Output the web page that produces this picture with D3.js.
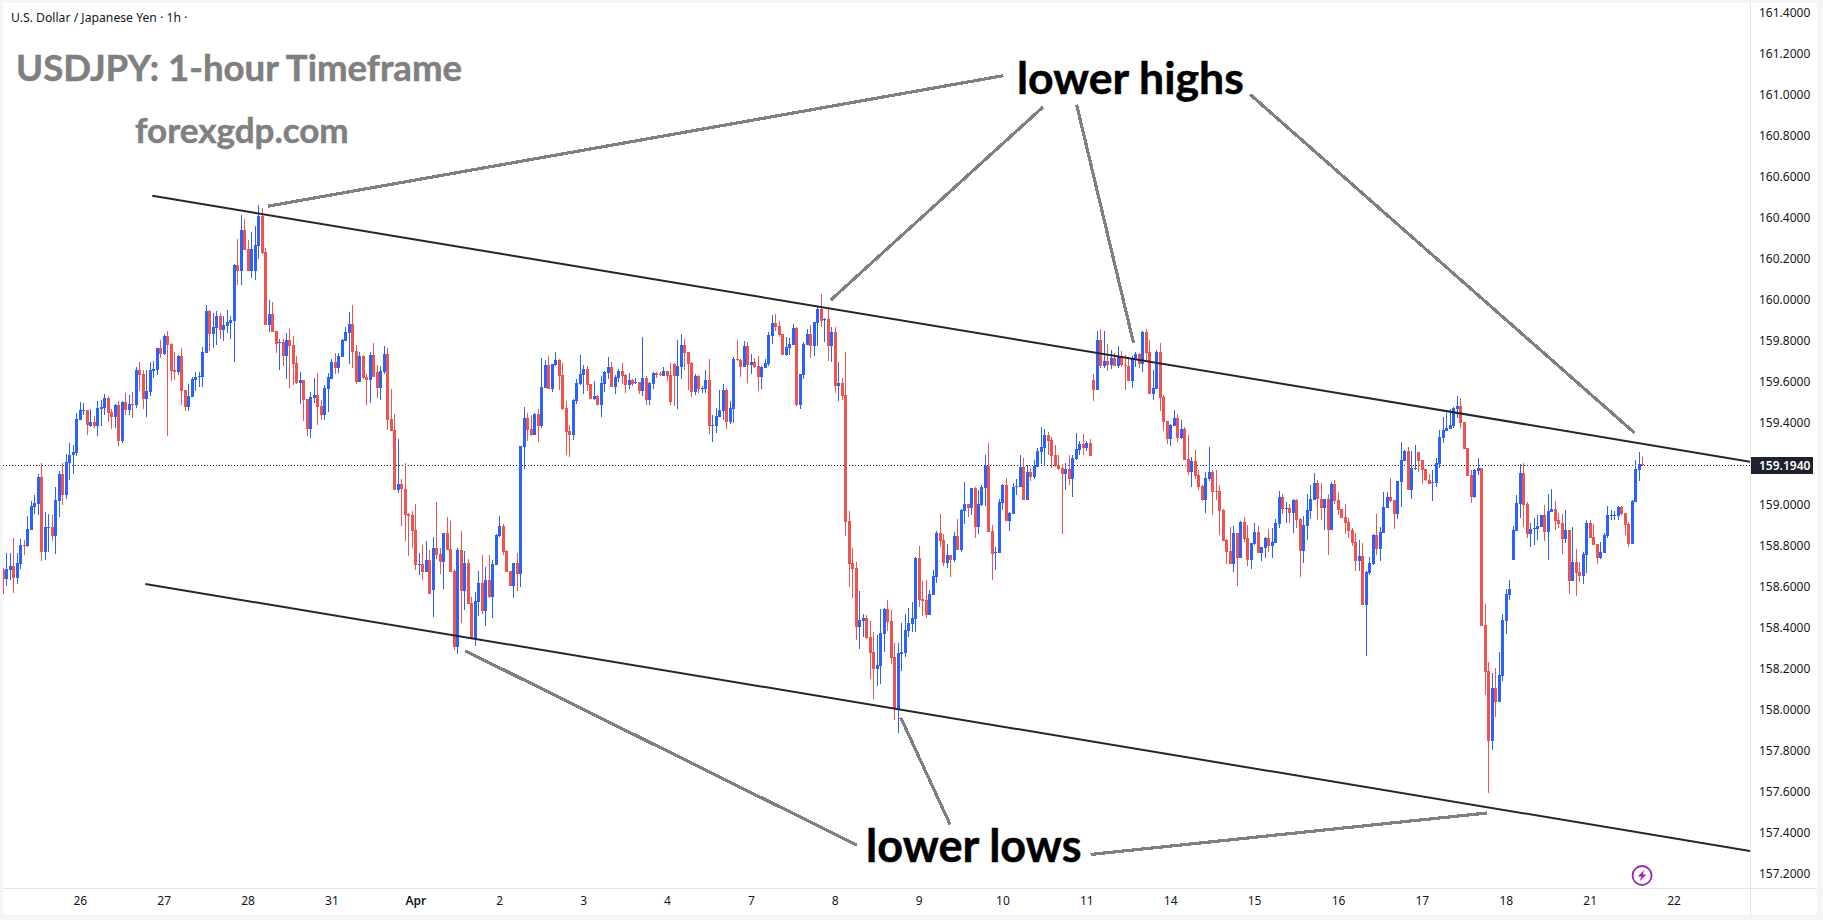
<!DOCTYPE html>
<html>
<head>
<meta charset="utf-8">
<title>USDJPY 1-hour chart</title>
<script src="https://cdn.jsdelivr.net/npm/d3@7/dist/d3.min.js"></script>
<style>
  html, body { margin: 0; padding: 0; background: #f5f5f5; }
  svg { display: block; }
  text { font-family: "Noto Sans", sans-serif; }
</style>
</head>
<body>
<svg id="chart" width="1823" height="920"></svg>
<script>
// Hourly USD/JPY candles, oldest first.
const opens = [
158.682,158.640,158.682,158.701,158.643,158.711,158.802,158.799,158.877,158.991,
159.004,159.136,158.771,158.887,158.890,158.848,159.020,159.150,159.048,159.205,
159.240,159.251,159.413,159.459,159.462,159.386,159.402,159.384,159.469,159.472,
159.521,159.451,159.428,159.486,159.312,159.501,159.462,159.490,159.486,159.657,
159.638,159.516,159.550,159.654,159.657,159.764,159.735,159.823,159.784,159.657,
159.647,159.725,159.560,159.477,159.525,159.608,159.623,159.623,159.740,159.945,
159.833,159.862,159.921,159.852,159.872,159.886,159.896,160.169,160.140,160.340,
160.247,160.140,160.140,160.262,160.408,160.233,159.877,159.930,159.847,159.789,
159.794,159.725,159.803,159.779,159.691,159.594,159.608,159.516,159.369,159.521,
159.535,159.481,159.438,159.564,159.613,159.696,159.667,159.721,159.799,159.838,
159.882,159.750,159.599,159.725,159.623,159.608,159.730,159.647,159.569,159.647,
159.735,159.418,159.364,159.072,159.101,159.075,158.955,158.950,158.877,158.706,
158.711,158.672,158.731,158.584,158.789,158.760,158.721,158.862,158.784,158.677,
158.306,158.779,158.579,158.716,158.521,158.345,158.526,158.618,158.482,158.633,
158.550,158.706,158.848,158.896,158.775,158.677,158.604,158.716,158.662,159.283,
159.423,159.369,159.340,159.442,159.384,159.569,159.681,159.564,159.681,159.706,
159.633,159.472,159.359,159.340,159.506,159.589,159.633,159.662,159.589,159.516,
159.530,159.486,159.589,159.642,159.672,159.574,159.618,159.652,159.633,159.584,
159.608,159.594,159.598,159.555,159.618,159.511,159.589,159.641,159.637,159.628,
159.652,159.633,159.686,159.628,159.672,159.779,159.745,159.691,159.550,159.628,
159.564,159.564,159.608,159.384,159.384,159.428,159.457,159.559,159.403,159.467,
159.711,159.706,159.672,159.774,159.681,159.696,159.676,159.623,159.667,159.686,
159.823,159.886,159.872,159.833,159.730,159.764,159.779,159.862,159.486,159.633,
159.779,159.833,159.774,159.886,159.955,159.901,159.906,159.774,159.842,159.579,
159.594,159.535,158.920,158.714,158.691,158.403,158.432,158.447,158.354,158.281,
158.198,158.213,158.369,158.491,158.432,158.257,158.001,158.271,158.276,158.383,
158.418,158.442,158.740,158.540,158.535,158.462,158.559,158.647,158.862,158.827,
158.715,158.754,158.730,158.847,158.779,158.969,159.003,158.984,159.081,158.891,
158.998,159.081,159.190,158.871,158.764,158.764,159.008,159.096,158.920,158.954,
159.086,159.086,159.183,159.022,159.159,159.135,159.183,159.257,159.276,159.340,
159.315,159.242,159.193,159.179,159.149,159.174,159.125,159.223,159.266,159.296,
159.276,159.301,159.609,159.560,159.804,159.677,159.701,159.682,159.716,159.677,
159.726,159.682,159.677,159.604,159.711,159.735,159.687,159.843,159.745,159.540,
159.565,159.745,159.526,159.409,159.321,159.384,159.423,159.326,159.370,159.223,
159.160,159.213,159.145,159.091,159.023,159.126,159.160,159.067,159.067,158.974,
158.828,158.774,158.711,158.862,158.740,158.916,158.838,158.730,158.809,158.867,
158.765,158.789,158.838,158.799,158.813,158.906,159.038,158.979,158.984,158.960,
159.023,158.930,158.774,158.896,158.970,159.023,159.106,159.028,158.984,159.028,
158.877,159.101,159.023,158.979,158.940,158.916,158.877,158.818,158.726,158.750,
158.511,158.667,158.711,158.852,158.784,158.862,158.984,159.038,159.023,158.955,
159.111,159.213,159.262,159.072,159.174,159.257,159.218,159.174,159.121,159.106,
159.106,159.199,159.326,159.360,159.370,159.384,159.467,159.482,159.404,159.277,
159.145,159.038,159.165,159.179,158.413,158.189,157.847,158.106,158.038,158.164,
158.433,158.559,158.730,158.872,159.003,159.155,159.003,158.857,158.881,158.881,
158.891,158.949,158.867,158.964,158.979,158.925,158.910,158.832,158.876,158.628,
158.720,158.671,158.652,158.754,158.910,158.842,158.808,158.740,158.764,158.847,
158.944,158.944,158.944,158.988,158.959,158.906,158.808,159.013,159.169,159.198];

const highs = [
158.690,158.763,158.763,158.836,158.763,158.831,158.828,158.945,159.018,159.048,
159.150,159.202,158.965,158.955,158.950,159.087,159.162,159.202,159.246,159.300,
159.292,159.449,159.501,159.495,159.462,159.467,159.433,159.506,159.511,159.540,
159.530,159.467,159.491,159.506,159.506,159.543,159.535,159.550,159.670,159.696,
159.657,159.657,159.696,159.701,159.764,159.803,159.833,159.847,159.789,159.743,
159.730,159.764,159.560,159.589,159.623,159.647,159.647,159.769,159.974,159.950,
159.935,159.945,159.935,159.921,159.950,159.921,160.174,160.296,160.413,160.394,
160.291,160.330,160.360,160.462,160.447,160.252,159.999,159.989,159.847,159.808,
159.808,159.838,159.857,159.823,159.725,159.647,159.608,159.516,159.550,159.618,
159.642,159.511,159.584,159.642,159.711,159.740,159.740,159.808,159.867,159.940,
159.974,159.779,159.745,159.730,159.638,159.745,159.789,159.682,159.677,159.774,
159.764,159.564,159.442,159.321,159.124,159.202,158.961,158.970,159.004,158.763,
158.804,158.823,158.779,158.843,159.014,158.789,158.862,158.940,158.921,158.687,
158.789,158.872,158.774,158.735,158.550,158.575,158.677,158.755,158.696,158.755,
158.731,158.857,158.945,158.906,158.779,158.677,158.716,158.765,159.287,159.476,
159.446,159.437,159.447,159.467,159.716,159.706,159.725,159.686,159.745,159.711,
159.691,159.506,159.389,159.516,159.613,159.730,159.681,159.676,159.589,159.603,
159.535,159.628,159.652,159.720,159.696,159.633,159.662,159.691,159.637,159.642,
159.613,159.618,159.598,159.818,159.628,159.598,159.647,159.647,159.647,159.672,
159.652,159.691,159.691,159.803,159.833,159.808,159.745,159.696,159.637,159.633,
159.579,159.657,159.711,159.437,159.472,159.559,159.589,159.569,159.506,159.720,
159.803,159.711,159.798,159.794,159.735,159.716,159.725,159.676,159.711,159.842,
159.925,159.930,159.896,159.833,159.818,159.813,159.881,159.867,159.637,159.794,
159.857,159.876,159.891,159.964,160.028,159.911,159.955,159.867,159.867,159.696,
159.618,159.745,158.969,158.788,158.720,158.579,158.466,158.462,158.432,158.379,
158.364,158.491,158.496,158.535,158.486,158.325,158.325,158.423,158.466,158.496,
158.525,158.744,158.798,158.627,158.632,158.583,158.681,158.871,158.954,158.857,
158.808,158.754,158.866,158.930,158.979,159.110,159.003,159.081,159.086,159.071,
159.096,159.242,159.301,158.901,158.793,159.027,159.101,159.130,158.964,159.105,
159.125,159.242,159.227,159.193,159.179,159.218,159.276,159.380,159.370,159.354,
159.330,159.291,159.242,159.198,159.203,159.242,159.242,159.349,159.310,159.344,
159.310,159.320,159.638,159.848,159.857,159.848,159.784,159.755,159.740,159.774,
159.750,159.730,159.721,159.726,159.745,159.740,159.848,159.857,159.804,159.657,
159.755,159.789,159.535,159.409,159.394,159.462,159.443,159.413,159.379,159.340,
159.233,159.267,159.170,159.096,159.160,159.282,159.170,159.170,159.096,158.979,
158.833,158.891,158.896,158.862,158.921,158.940,158.901,158.813,158.911,158.896,
158.794,158.843,158.882,158.887,158.930,159.067,159.052,159.013,159.004,159.028,
159.028,158.935,158.945,159.052,159.096,159.155,159.121,159.106,159.028,159.052,
159.111,159.121,159.062,158.979,159.004,158.935,158.887,158.862,158.828,158.813,
158.677,158.745,158.857,158.955,158.891,159.062,159.062,159.130,159.023,159.116,
159.306,159.267,159.282,159.262,159.291,159.257,159.218,159.174,159.150,159.170,
159.228,159.365,159.428,159.448,159.467,159.477,159.530,159.521,159.404,159.277,
159.170,159.174,159.228,159.179,158.516,158.233,158.179,158.203,158.281,158.467,
158.589,158.633,158.896,159.047,159.198,159.203,159.013,158.911,158.935,158.949,
158.949,158.998,159.052,159.076,159.018,158.958,158.954,158.974,158.876,158.891,
158.784,158.720,158.769,158.925,158.925,158.906,158.808,158.818,158.862,158.993,
158.974,158.969,158.993,158.993,158.959,158.915,159.023,159.218,159.257,159.232];

const lows = [
158.565,158.604,158.633,158.571,158.614,158.688,158.755,158.792,158.877,158.955,
158.950,158.727,158.731,158.771,158.823,158.760,158.942,158.999,159.028,159.121,
159.150,159.238,159.413,159.438,159.340,159.381,159.376,159.335,159.384,159.436,
159.405,159.369,159.373,159.288,159.299,159.438,159.438,159.425,159.473,159.555,
159.467,159.428,159.530,159.618,159.634,159.716,159.730,159.335,159.603,159.608,
159.633,159.485,159.457,159.457,159.525,159.555,159.574,159.574,159.740,159.750,
159.764,159.779,159.808,159.799,159.838,159.808,159.696,160.072,160.072,160.243,
160.140,160.106,160.096,160.199,160.223,159.877,159.843,159.843,159.740,159.657,
159.677,159.613,159.569,159.584,159.589,159.490,159.408,159.335,159.325,159.496,
159.389,159.413,159.413,159.452,159.613,159.638,159.642,159.721,159.799,159.686,
159.667,159.589,159.599,159.613,159.486,159.496,159.623,159.521,159.511,159.638,
159.364,159.360,159.072,159.059,158.896,158.823,158.750,158.789,158.682,158.657,
158.633,158.672,158.565,158.453,158.736,158.662,158.589,158.779,158.672,158.292,
158.272,158.423,158.487,158.516,158.345,158.311,158.457,158.467,158.409,158.545,
158.448,158.706,158.843,158.755,158.672,158.604,158.545,158.579,158.599,159.174,
159.311,159.335,159.340,159.306,159.374,159.569,159.564,159.550,159.676,159.559,
159.462,159.242,159.233,159.316,159.491,159.584,159.540,159.555,159.516,159.511,
159.486,159.428,159.550,159.613,159.574,159.540,159.598,159.589,159.545,159.564,
159.579,159.589,159.540,159.530,159.486,159.486,159.564,159.618,159.628,159.628,
159.603,159.486,159.481,159.467,159.613,159.657,159.559,159.525,159.535,159.543,
159.545,159.545,159.345,159.306,159.350,159.428,159.413,159.369,159.394,159.398,
159.701,159.623,159.672,159.594,159.637,159.667,159.554,159.564,159.667,159.676,
159.784,159.847,159.818,159.730,159.725,159.730,159.779,159.481,159.467,159.613,
159.779,159.715,159.725,159.774,159.867,159.794,159.701,159.696,159.545,159.506,
159.511,158.847,158.598,158.544,158.340,158.296,158.354,158.344,158.149,158.052,
158.115,158.125,158.281,158.384,158.222,157.949,157.888,158.188,158.257,158.354,
158.379,158.379,158.501,158.457,158.447,158.462,158.559,158.618,158.795,158.701,
158.691,158.647,158.720,158.779,158.769,158.905,158.940,158.949,158.837,158.857,
158.993,158.993,158.866,158.632,158.681,158.764,158.974,158.920,158.871,158.954,
159.047,159.086,159.022,159.022,159.115,159.125,159.183,159.198,159.188,159.242,
159.179,159.183,159.169,158.857,159.071,159.096,159.037,159.218,159.242,159.242,
159.262,159.237,159.506,159.560,159.667,159.667,159.652,159.662,159.677,159.667,
159.672,159.560,159.604,159.570,159.670,159.667,159.648,159.696,159.540,159.511,
159.565,159.457,159.360,159.296,159.287,159.384,159.306,159.321,159.218,159.145,
159.087,159.126,159.072,159.018,158.960,159.116,158.950,159.023,158.852,158.823,
158.711,158.711,158.672,158.604,158.740,158.818,158.701,158.687,158.804,158.765,
158.726,158.740,158.770,158.740,158.813,158.887,158.955,158.911,158.911,158.862,
158.887,158.648,158.716,158.828,158.930,159.023,158.926,158.926,158.877,158.755,
158.877,159.004,158.950,158.935,158.857,158.838,158.799,158.677,158.677,158.511,
158.262,158.657,158.706,158.755,158.726,158.862,158.984,159.013,158.882,158.930,
158.989,159.213,159.072,159.028,159.169,159.160,159.101,159.116,159.101,159.018,
159.087,159.179,159.301,159.360,159.370,159.374,159.423,159.374,159.272,159.140,
159.009,159.033,159.145,158.408,158.072,157.594,157.803,157.964,158.038,158.140,
158.369,158.535,158.730,158.872,158.935,158.891,158.837,158.794,158.803,158.828,
158.891,158.823,158.730,158.964,158.876,158.886,158.759,158.813,158.564,158.628,
158.554,158.623,158.613,158.667,158.837,158.803,158.710,158.735,158.764,158.837,
158.925,158.925,158.925,158.949,158.852,158.793,158.808,159.013,159.115,159.188];

const closes = [
158.640,158.685,158.701,158.643,158.714,158.802,158.799,158.880,158.994,159.007,
159.136,158.771,158.890,158.890,158.848,159.023,159.150,159.048,159.207,159.243,
159.256,159.417,159.462,159.462,159.389,159.402,159.384,159.472,159.475,159.521,
159.449,159.430,159.486,159.312,159.501,159.462,159.490,159.486,159.657,159.633,
159.516,159.555,159.657,159.662,159.764,159.735,159.823,159.779,159.652,159.647,
159.725,159.555,159.477,159.530,159.613,159.623,159.628,159.745,159.945,159.833,
159.867,159.921,159.852,159.877,159.891,159.901,160.169,160.140,160.340,160.243,
160.140,160.247,160.267,160.408,160.228,159.877,159.930,159.843,159.784,159.794,
159.725,159.803,159.774,159.686,159.594,159.608,159.511,159.369,159.525,159.535,
159.477,159.438,159.569,159.623,159.696,159.667,159.725,159.803,159.843,159.882,
159.745,159.599,159.725,159.618,159.608,159.730,159.623,159.569,159.652,159.735,
159.413,159.360,159.072,159.101,159.075,158.950,158.945,158.872,158.706,158.711,
158.672,158.731,158.565,158.789,158.755,158.721,158.862,158.779,158.672,158.306,
158.779,158.579,158.716,158.516,158.345,158.531,158.618,158.482,158.633,158.550,
158.711,158.853,158.896,158.770,158.672,158.604,158.716,158.662,159.287,159.423,
159.364,159.338,159.442,159.384,159.574,159.681,159.564,159.686,159.706,159.628,
159.467,159.355,159.340,159.511,159.594,159.637,159.662,159.584,159.516,159.530,
159.486,159.594,159.647,159.672,159.574,159.623,159.652,159.628,159.584,159.608,
159.589,159.598,159.555,159.618,159.511,159.594,159.642,159.633,159.633,159.652,
159.628,159.501,159.628,159.676,159.779,159.740,159.686,159.550,159.628,159.564,
159.569,159.608,159.384,159.389,159.432,159.462,159.559,159.403,159.472,159.711,
159.706,159.672,159.774,159.681,159.696,159.672,159.623,159.672,159.691,159.828,
159.886,159.867,159.828,159.730,159.769,159.784,159.862,159.486,159.637,159.784,
159.833,159.774,159.891,159.955,159.896,159.906,159.774,159.842,159.579,159.594,
159.530,158.915,158.710,158.686,158.403,158.437,158.447,158.349,158.276,158.198,
158.218,158.374,158.491,158.427,158.252,158.008,158.276,158.281,158.388,158.422,
158.447,158.740,158.535,158.530,158.462,158.564,158.652,158.862,158.823,158.715,
158.754,158.730,158.847,158.779,158.974,159.003,158.984,159.081,158.891,159.003,
159.086,159.190,158.866,158.759,158.769,159.013,159.096,158.920,158.959,159.086,
159.091,159.183,159.022,159.159,159.135,159.188,159.262,159.281,159.340,159.310,
159.237,159.188,159.174,159.149,159.174,159.125,159.227,159.271,159.296,159.276,
159.301,159.237,159.560,159.804,159.677,159.701,159.682,159.716,159.677,159.726,
159.682,159.677,159.604,159.714,159.735,159.687,159.843,159.740,159.540,159.570,
159.745,159.521,159.404,159.321,159.389,159.423,159.326,159.370,159.218,159.160,
159.213,159.140,159.087,159.023,159.130,159.160,159.062,159.062,158.970,158.823,
158.770,158.711,158.862,158.740,158.916,158.833,158.730,158.813,158.867,158.765,
158.794,158.838,158.799,158.818,158.911,159.038,158.979,158.983,158.960,159.023,
158.926,158.774,158.901,158.974,159.028,159.106,159.028,158.984,159.028,158.877,
159.101,159.018,158.974,158.935,158.911,158.872,158.813,158.726,158.750,158.511,
158.672,158.716,158.852,158.784,158.867,158.989,159.038,159.018,158.955,159.116,
159.218,159.262,159.072,159.179,159.179,159.213,159.169,159.121,159.101,159.111,
159.204,159.330,159.365,159.374,159.389,159.472,159.482,159.399,159.272,159.140,
159.038,159.170,159.179,158.408,158.184,157.847,158.106,158.038,158.169,158.437,
158.564,158.589,158.877,159.008,159.155,159.000,158.857,158.881,158.886,158.896,
158.949,158.867,158.969,158.979,158.920,158.906,158.832,158.876,158.628,158.720,
158.667,158.652,158.759,158.910,158.837,158.803,158.740,158.769,158.852,158.949,
158.949,158.949,158.988,158.954,158.901,158.808,159.018,159.174,159.198,159.194];

const lastPrice = 159.194;

// Price scale labels and the session labels along the time axis.
const priceTicks = [157.2,157.4,157.6,157.8,158.0,158.2,158.4,158.6,158.8,159.0,159.2,159.4,159.6,159.8,160.0,160.2,160.4,160.6,160.8,161.0,161.2,161.4];
const dayLabels = ["26","27","28","31","Apr","2","3","4","7","8","9","10","11","14","15","16","17","18","21","22"];
const firstDayBar = 22;
const barsPerDay = 24;

// Channel lines and callouts, as [bar, price] pairs.
const channelTop = [[42.75, 160.507], [499.9, 159.210]];
const channelBottom = [[40.75, 158.613], [499.9, 157.311]];
const highCallouts = [
  [[75.8, 160.456], [286.3, 161.093]],
  [[236.9, 159.999], [297.6, 160.940]],
  [[307.2, 160.952], [323.5, 159.789]],
  [[356.8, 161.002], [466.8, 159.351]]
];
const lowCallouts = [
  [[132.2, 158.288], [244.4, 157.339]],
  [[256.9, 157.961], [271.0, 157.441]],
  [[311.2, 157.294], [424.6, 157.496]]
];

const BLUE = "#2962ff", RED = "#ef5350", INK = "#131722", GRID = "#e0e3eb", NOTE = "#808080";
const pane = { left: 3, top: 3, right: 1750, bottom: 888, axisRight: 1817, foot: 915 };

const x = d3.scaleLinear().domain([0, 469]).range([2.9, 2.9 + 3.495 * 469]);
const y = d3.scaleLinear().domain([157.2, 161.4]).range([873.7, 12.7]);

const svg = d3.select("#chart");

svg.append("rect").attr("x", pane.left).attr("y", pane.top)
  .attr("width", pane.axisRight - pane.left).attr("height", pane.foot - pane.top).attr("fill", "#fff");

svg.append("defs").append("clipPath").attr("id", "pane")
  .append("rect").attr("x", pane.left).attr("y", pane.top)
  .attr("width", pane.right - pane.left).attr("height", pane.bottom - pane.top);

const plot = svg.append("g").attr("clip-path", "url(#pane)");

// Dotted line at the last traded price.
plot.append("line")
  .attr("x1", pane.left).attr("x2", pane.right)
  .attr("y1", Math.round(y(lastPrice)) + 0.5).attr("y2", Math.round(y(lastPrice)) + 0.5)
  .attr("stroke", INK).attr("stroke-width", 1).attr("stroke-dasharray", "1 2");

// Candles: one group per bar, wick underneath, body on top.
const bars = plot.append("g").attr("shape-rendering", "crispEdges")
  .selectAll("g").data(d3.range(opens.length)).join("g")
  .attr("fill", i => closes[i] >= opens[i] ? BLUE : RED);

bars.append("rect")
  .attr("x", i => Math.round(x(i)))
  .attr("width", 1)
  .attr("y", i => y(highs[i]))
  .attr("height", i => y(lows[i]) - y(highs[i]));

bars.append("rect")
  .attr("x", i => Math.round(x(i)) - 1)
  .attr("width", 3)
  .attr("y", i => Math.round(y(Math.max(opens[i], closes[i]))))
  .attr("height", i => Math.max(1, Math.round(y(Math.min(opens[i], closes[i]))) - Math.round(y(Math.max(opens[i], closes[i])))));

// Channel boundaries.
const segment = d3.line().x(d => x(d[0])).y(d => y(d[1]));
plot.selectAll("path.channel").data([channelTop, channelBottom]).join("path")
  .attr("class", "channel").attr("d", segment)
  .attr("fill", "none").attr("stroke", "#23262f").attr("stroke-width", 2);

// Callout strokes from the swing points to the labels.
plot.selectAll("path.callout").data(highCallouts.concat(lowCallouts)).join("path")
  .attr("class", "callout").attr("d", segment)
  .attr("fill", "none").attr("stroke", NOTE).attr("stroke-width", 3.2)
  .attr("shape-rendering", "crispEdges");

// Axis frame.
svg.append("line").attr("x1", pane.right + 0.5).attr("x2", pane.right + 0.5)
  .attr("y1", pane.top).attr("y2", pane.foot).attr("stroke", GRID);
svg.append("line").attr("x1", pane.left).attr("x2", pane.axisRight)
  .attr("y1", pane.bottom + 0.5).attr("y2", pane.bottom + 0.5).attr("stroke", GRID);

// Price axis.
const priceAxis = d3.axisRight(y).tickValues(priceTicks).tickSize(0).tickPadding(0).tickFormat(d3.format(".4f"));
svg.append("g").attr("transform", `translate(${pane.right + 9},0)`).call(priceAxis)
  .call(g => g.select(".domain").remove())
  .selectAll("text").attr("fill", INK).style("font-size", "12px").style("font-family", '"Noto Sans", sans-serif');

// Time axis: one label at the first bar of each session.
const dayBars = dayLabels.map((_, k) => firstDayBar + k * barsPerDay);
const timeAxis = d3.axisBottom(x).tickValues(dayBars).tickSize(0).tickPadding(0)
  .tickFormat((_, k) => dayLabels[k]);
svg.append("g").attr("transform", `translate(0,${pane.bottom + 8})`).call(timeAxis)
  .call(g => g.select(".domain").remove())
  .selectAll("text").attr("fill", INK).style("font-size", "12px").style("font-family", '"Noto Sans", sans-serif')
  .style("font-weight", (_, k) => dayLabels[k] === "Apr" ? 600 : 400);

// Last price tag.
const tagY = Math.round(y(lastPrice));
svg.append("rect").attr("x", pane.right + 1).attr("y", tagY - 8).attr("width", 62).attr("height", 17).attr("fill", "#1e222d");
svg.append("text").attr("x", pane.right + 9).attr("y", tagY + 5).attr("fill", "#fff")
  .style("font-size", "12px").style("font-weight", 600).text(d3.format(".4f")(lastPrice));

// Header and annotations.
svg.append("text").attr("x", 11).attr("y", 22).attr("fill", INK).style("font-size", "12.2px")
  .text("U.S. Dollar / Japanese Yen · 1h ·");

const heading = (label, px, py, size, fill) => svg.append("text")
  .attr("x", px).attr("y", py).attr("fill", fill).attr("stroke", fill).attr("stroke-width", 0.5)
  .style("font-family", "Lato, sans-serif").style("font-weight", 700).style("font-size", size + "px").text(label);
heading("USDJPY: 1-hour Timeframe", 16, 81, 36.6, NOTE);
heading("forexgdp.com", 135, 143, 35, NOTE);
heading("lower highs", 1017, 94, 44.6, "#000");
heading("lower lows", 866, 862, 45, "#000");

// Bolt badge in the lower right corner of the pane.
const badge = svg.append("g").attr("transform", `translate(${x(469)},875.5)`);
badge.append("circle").attr("r", 9.5).attr("fill", "#fff").attr("stroke", "#9c27b0").attr("stroke-width", 1.8);
badge.append("path").attr("d", "M2.2,-5.6 L-4.4,1 L-0.8,1 L-2.2,5.6 L4.4,-1 L0.8,-1 Z").attr("fill", "#9c27b0");
</script>
</body>
</html>
